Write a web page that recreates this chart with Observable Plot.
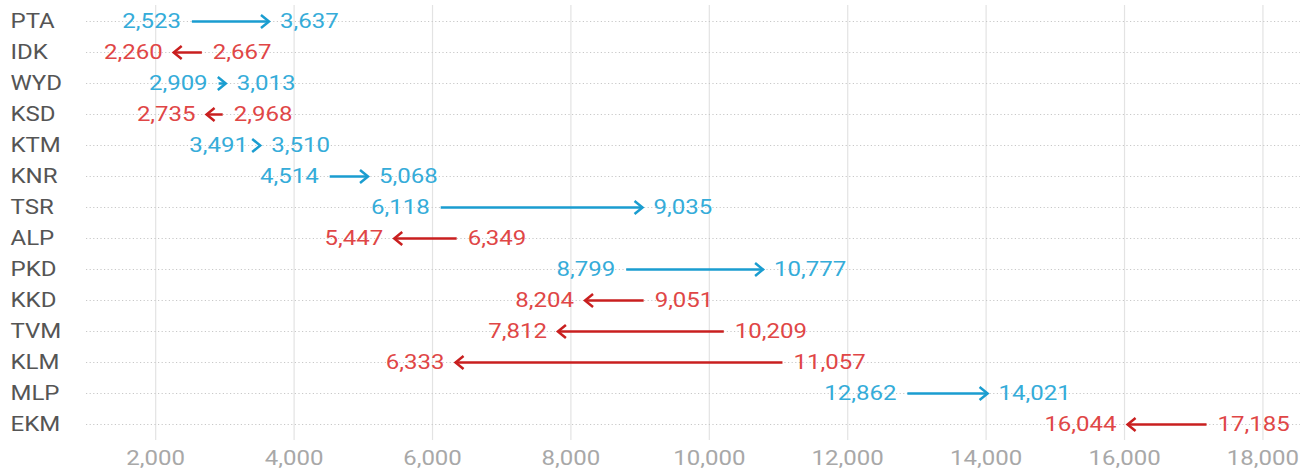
<!DOCTYPE html>
<html>
<head>
<meta charset="utf-8">
<script src="https://cdn.jsdelivr.net/npm/d3@7"></script>
<script src="https://cdn.jsdelivr.net/npm/@observablehq/plot@0.6"></script>
<style>
  html, body { margin: 0; padding: 0; background: #fff; }
</style>
</head>
<body>
<div id="chart"></div>
<script>
const categories = ["PTA","IDK","WYD","KSD","KTM","KNR","TSR","ALP","PKD","KKD","TVM","KLM","MLP","EKM"];
const fromValues = [2523, 2667, 2909, 2968, 3491, 4514, 6118, 6349, 8799, 9051, 10209, 11057, 12862, 17185];
const toValues   = [3637, 2260, 3013, 2735, 3510, 5068, 9035, 5447, 10777, 8204, 7812, 6333, 14021, 16044];
const xTicks = [2000, 4000, 6000, 8000, 10000, 12000, 14000, 16000, 18000];

const upLine = "#1a9dd0", upText = "#35acd9";
const downLine = "#c91f1f", downText = "#e04646";

const data = categories.map((c, i) => ({
  cat: c, from: fromValues[i], to: toValues[i], up: toValues[i] > fromValues[i]
}));

const chevron = {
  draw(context) {
    context.moveTo(-8, -6.5);
    context.lineTo(0, 0);
    context.lineTo(-8, 6.5);
  }
};

const FS = 20;

const chart = Plot.plot({
  width: 1307,
  height: 470,
  marginLeft: 86,
  marginRight: 7,
  marginTop: 5,
  marginBottom: 30,
  style: { fontFamily: "Roboto, sans-serif", fontSize: FS + "px", background: "#fff" },
  x: { domain: [1000, 18543] },
  y: { type: "point", domain: categories, padding: 0.41, axis: null },
  color: { type: "identity" },
  marks: [
    Plot.gridX(xTicks, { stroke: "#e3e3e3", strokeOpacity: 1, strokeWidth: 1.2 }),
    Plot.gridY(categories, { stroke: "#c8c8c8", strokeOpacity: 1, strokeDasharray: "1.2,2.4" }),
    Plot.link(data, {
      x1: "from", x2: "to", y: "cat",
      stroke: d => d.up ? upLine : downLine, strokeWidth: 2.5
    }),
    Plot.dot(data, {
      x: "to", y: "cat", symbol: chevron, r: 5,
      rotate: d => d.up ? 0 : 180,
      stroke: d => d.up ? upLine : downLine, fill: "none", strokeWidth: 2.5,
      strokeLinejoin: "miter"
    }),
    Plot.text(data, {
      x: d => Math.min(d.from, d.to), y: "cat",
      text: d => d3.format(",")(Math.min(d.from, d.to)),
      textAnchor: "end", dx: -11, fontSize: FS,
      fill: d => d.up ? upText : downText
    }),
    Plot.text(data, {
      x: d => Math.max(d.from, d.to), y: "cat",
      text: d => d3.format(",")(Math.max(d.from, d.to)),
      textAnchor: "start", dx: 11, fontSize: FS,
      fill: d => d.up ? upText : downText
    }),
    Plot.text(categories, {
      y: d => d, text: d => d, frameAnchor: "left",
      textAnchor: "start", dx: -76, fontSize: FS, fill: "#555"
    }),
    Plot.axisX({
      ticks: xTicks, tickSize: 0, tickPadding: 10,
      tickFormat: d3.format(","), fontSize: FS, color: "#a8a8a8"
    })
  ]
});

document.getElementById("chart").appendChild(chart);

// widen glyphs (reference text is horizontally stretched)
chart.querySelectorAll("text").forEach(t => {
  let len = 0;
  try { len = t.getComputedTextLength(); } catch (e) { len = 0; }
  if (len > 0) {
    t.setAttribute("textLength", (len * 1.2).toFixed(1));
    t.setAttribute("lengthAdjust", "spacingAndGlyphs");
  }
});
</script>
</body>
</html>
